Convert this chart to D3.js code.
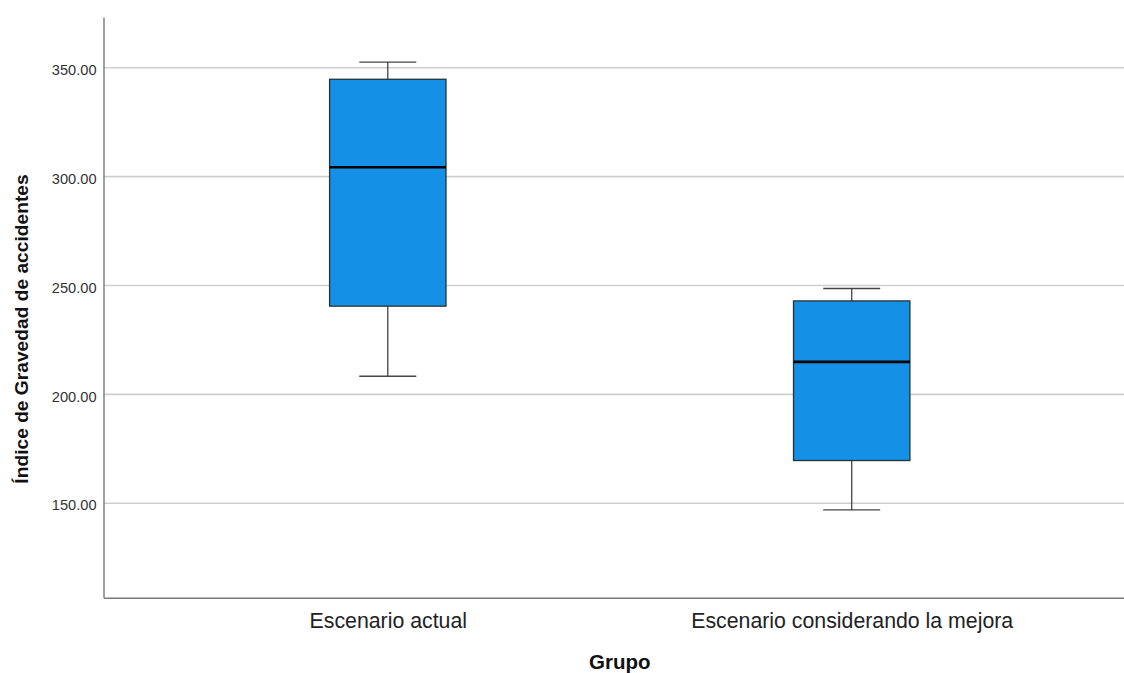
<!DOCTYPE html>
<html>
<head>
<meta charset="utf-8">
<script src="https://cdn.jsdelivr.net/npm/d3@7"></script>
<style>
  html, body { margin: 0; padding: 0; background: #fff; }
  svg { display: block; font-family: "Liberation Sans", Arial, sans-serif; }
</style>
</head>
<body>
<svg id="chart" width="1124" height="673"></svg>
<script>
const categories = ["Escenario actual", "Escenario considerando la mejora"];
const whiskerLow  = [208.3, 146.9];
const q1          = [240.5, 169.6];
const medians     = [304.3, 214.9];
const q3          = [344.7, 242.9];
const whiskerHigh = [352.6, 248.6];
const yTicks = [150, 200, 250, 300, 350];
const yLabel = "Índice de Gravedad de accidentes";
const xLabel = "Grupo";

const boxes = categories.map((c, i) => ({
  cat: c, lo: whiskerLow[i], q1: q1[i], med: medians[i], q3: q3[i], hi: whiskerHigh[i]
}));

const svg = d3.select("#chart");
const plotLeft = 103.5, plotRight = 1136, plotTop = 17, plotBottom = 597.7;

const y = d3.scaleLinear().domain([106.6, 373.3]).range([plotBottom, plotTop]);
const x = d3.scalePoint().domain(categories).range([plotLeft, plotRight]).padding(0.6128);

// gridlines
svg.append("g").selectAll("line").data(yTicks).join("line")
  .attr("x1", plotLeft).attr("x2", 1124)
  .attr("y1", d => y(d)).attr("y2", d => y(d))
  .attr("stroke", "#cfcfcf").attr("stroke-width", 1.6);

// y axis
const yAxis = d3.axisLeft(y).tickValues(yTicks).tickSize(0).tickPadding(7)
  .tickFormat(d3.format(".2f"));
const gy = svg.append("g").attr("transform", `translate(${plotLeft},0)`).call(yAxis);
gy.select(".domain").attr("stroke", "#7a7a7a").attr("stroke-width", 1.4);
gy.selectAll("text").attr("font-size", "14.6px").attr("fill", "#333").attr("dy", "0.46em")
  .attr("font-family", "'Liberation Sans', Arial, sans-serif");

// x axis
const xAxis = d3.axisBottom(x).tickSize(0).tickPadding(15);
const gx = svg.append("g").attr("transform", `translate(0,${plotBottom})`).call(xAxis);
gx.select(".domain").attr("stroke", "#7a7a7a").attr("stroke-width", 1.4);
gx.selectAll("text").attr("font-size", "21.3px").attr("fill", "#222")
  .attr("font-family", "'Liberation Sans', Arial, sans-serif");

// boxes
const boxW = 116.4, capW = 57;
const g = svg.append("g").selectAll("g").data(boxes).join("g");
g.append("line")
  .attr("x1", d => x(d.cat)).attr("x2", d => x(d.cat))
  .attr("y1", d => y(d.hi)).attr("y2", d => y(d.q3))
  .attr("stroke", "#444").attr("stroke-width", 1.3);
g.append("line")
  .attr("x1", d => x(d.cat)).attr("x2", d => x(d.cat))
  .attr("y1", d => y(d.q1)).attr("y2", d => y(d.lo))
  .attr("stroke", "#444").attr("stroke-width", 1.3);
g.append("line")
  .attr("x1", d => x(d.cat) - capW / 2).attr("x2", d => x(d.cat) + capW / 2)
  .attr("y1", d => y(d.hi)).attr("y2", d => y(d.hi))
  .attr("stroke", "#444").attr("stroke-width", 1.3);
g.append("line")
  .attr("x1", d => x(d.cat) - capW / 2).attr("x2", d => x(d.cat) + capW / 2)
  .attr("y1", d => y(d.lo)).attr("y2", d => y(d.lo))
  .attr("stroke", "#444").attr("stroke-width", 1.3);
g.append("rect")
  .attr("x", d => x(d.cat) - boxW / 2).attr("width", boxW)
  .attr("y", d => y(d.q3)).attr("height", d => y(d.q1) - y(d.q3))
  .attr("fill", "#1490e6").attr("stroke", "#263238").attr("stroke-width", 1.3);
g.append("line")
  .attr("x1", d => x(d.cat) - boxW / 2).attr("x2", d => x(d.cat) + boxW / 2)
  .attr("y1", d => y(d.med)).attr("y2", d => y(d.med))
  .attr("stroke", "#000").attr("stroke-width", 2.6);

// axis titles
svg.append("text")
  .attr("transform", `translate(28,329) rotate(-90)`)
  .attr("text-anchor", "middle")
  .attr("font-size", "19.2px").attr("font-weight", "bold").attr("fill", "#111")
  .text(yLabel);
svg.append("text")
  .attr("x", (plotLeft + plotRight) / 2).attr("y", 669)
  .attr("text-anchor", "middle")
  .attr("font-size", "20.5px").attr("font-weight", "bold").attr("fill", "#111")
  .text(xLabel);
</script>
</body>
</html>
